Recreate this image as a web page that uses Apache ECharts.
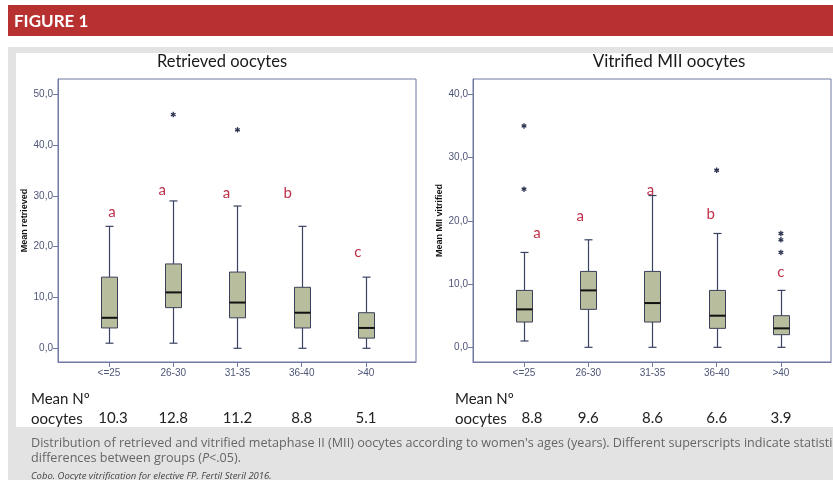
<!DOCTYPE html>
<html><head><meta charset="utf-8">
<script src="https://cdn.jsdelivr.net/npm/echarts@6/dist/echarts.min.js"></script>
<style>html,body{margin:0;padding:0;background:#fff;}#c{width:833px;height:480px;}</style>
</head><body><div id="c"></div>
<script>
// ---------------- DATA ----------------
const categories = ['<=25', '26-30', '31-35', '36-40', '>40'];

// Retrieved oocytes (box plot: low whisker, Q1, median, Q3, high whisker)
const retrievedLow    = [1, 1, 0, 0, 0];
const retrievedQ1     = [4, 8, 6, 4, 2];
const retrievedMedian = [6, 11, 9, 7, 4];
const retrievedQ3     = [14, 16.6, 15, 12, 7];
const retrievedHigh   = [24, 29, 28, 24, 14];
const retrievedOutliers = [[1, 46], [2, 43]];          // [category index, value]
const retrievedLetters  = ['a', 'a', 'a', 'b', 'c'];
const retrievedLetterY  = [26.8, 31.2, 30.6, 30.5, 19];
const retrievedMeans    = ['10.3', '12.8', '11.2', '8.8', '5.1'];
const retrievedTicks    = [0, 10, 20, 30, 40, 50];

// Vitrified MII oocytes
const vitrifiedLow    = [1, 0, 0, 0, 0];
const vitrifiedQ1     = [4, 6, 4, 3, 2];
const vitrifiedMedian = [6, 9, 7, 5, 3];
const vitrifiedQ3     = [9, 12, 12, 9, 5];
const vitrifiedHigh   = [15, 17, 24, 18, 9];
const vitrifiedOutliers = [[0, 35], [0, 25], [3, 28], [4, 18], [4, 17], [4, 15]];
const vitrifiedLetters  = ['a', 'a', 'a', 'b', 'c'];
const vitrifiedLetterY  = [18.1, 20.7, 24.9, 21.0, 11.9];
const vitrifiedMeans    = ['8.8', '9.6', '8.6', '6.6', '3.9'];
const vitrifiedTicks    = [0, 10, 20, 30, 40];

// ---------------- STYLE ----------------
const frameColor = '#7079a3';
const axisTextColor = '#4d5577';
const boxFill = '#b8bd9d';
const boxStroke = '#3a4058';
const whiskerColor = '#3a4362';
const starColor = '#2b3350';
const letterColor = '#c03049';
const retrievedLetterDx = [3, -11, -11, -14, -8];
const vitrifiedLetterDx = [13, -8, -2, -6, 0];
const retrievedMeanPad = [8, 0, 0, 0, 0];
const vitrifiedMeanPad = [16, 0, 0, 0, 0];
const catIdx = categories.map((c, i) => i);

function boxRows(lo, q1, md, q3, hi) {
  return categories.map((c, i) => [i, lo[i], q1[i], md[i], q3[i], hi[i]]);
}

function boxRender(params, api) {
  const x = api.value(0);
  const lo = api.coord([x, api.value(1)]);
  const q1 = api.coord([x, api.value(2)]);
  const md = api.coord([x, api.value(3)]);
  const q3 = api.coord([x, api.value(4)]);
  const hi = api.coord([x, api.value(5)]);
  const cx = Math.round(lo[0]) + 0.5;
  const bw = 16, cw = 8;
  const ls = { stroke: whiskerColor, lineWidth: 1.2 };
  return { type: 'group', children: [
    { type: 'line', shape: { x1: cx, y1: hi[1], x2: cx, y2: q3[1] }, style: ls },
    { type: 'line', shape: { x1: cx, y1: q1[1], x2: cx, y2: lo[1] }, style: ls },
    { type: 'line', shape: { x1: cx - cw / 2, y1: hi[1], x2: cx + cw / 2, y2: hi[1] }, style: ls },
    { type: 'line', shape: { x1: cx - cw / 2, y1: lo[1], x2: cx + cw / 2, y2: lo[1] }, style: ls },
    { type: 'rect', shape: { x: cx - bw / 2, y: q3[1], width: bw, height: q1[1] - q3[1] },
      style: { fill: boxFill, stroke: boxStroke, lineWidth: 1 } },
    { type: 'line', shape: { x1: cx - bw / 2, y1: md[1], x2: cx + bw / 2, y2: md[1] },
      style: { stroke: '#111', lineWidth: 2 } }
  ]};
}

function starRender(params, api) {
  const p = api.coord([api.value(0), api.value(1)]);
  const r = 2.7, s = { stroke: starColor, lineWidth: 1.3 };
  const ch = [];
  for (let k = 0; k < 3; k++) {
    const a = Math.PI / 2 + k * Math.PI / 3;
    ch.push({ type: 'line', shape: { x1: p[0] - r * Math.cos(a), y1: p[1] - r * Math.sin(a),
      x2: p[0] + r * Math.cos(a), y2: p[1] + r * Math.sin(a) }, style: s });
  }
  return { type: 'group', children: ch };
}

function letterRender(letters, dx) {
  return function (params, api) {
    const p = api.coord([api.value(0), api.value(1)]);
    return { type: 'text', x: p[0] + dx[params.dataIndex], y: p[1],
      style: { text: letters[params.dataIndex], fill: letterColor, font: '15px Lato',
        align: 'center', verticalAlign: 'middle' } };
  };
}

const fmtTick = v => v.toFixed(1).replace('.', ',');

function xAxes(gridIndex, means, pads) {
  const rich = {};
  pads.forEach((p, i) => { rich['m' + i] = { padding: [0, 0, 0, p], fontSize: 15, fontFamily: 'Lato', color: '#222' }; });
  return [
    { type: 'value', gridIndex, min: -0.794, max: 4.78, splitLine: { show: false },
      axisLine: { show: true, onZero: false, lineStyle: { color: frameColor } },
      axisTick: { show: true, length: 5, customValues: catIdx, lineStyle: { color: frameColor } },
      axisLabel: { customValues: catIdx, formatter: v => categories[Math.round(v)], margin: 6,
        color: axisTextColor, fontSize: 10, fontFamily: 'Liberation Sans' } },
    { type: 'value', gridIndex, position: 'bottom', offset: 44, min: -0.794, max: 4.78,
      splitLine: { show: false }, axisLine: { show: false, onZero: false }, axisTick: { show: false },
      axisLabel: { customValues: catIdx, margin: 5, rich,
        formatter: v => { const i = Math.round(v); return '{m' + i + '|' + means[i] + '}'; },
        color: '#222', fontSize: 15, fontFamily: 'Lato' } }
  ];
}

function yAxis(gridIndex, min, max, ticks, name) {
  return { type: 'value', gridIndex, min, max, splitLine: { show: false },
    name, nameLocation: 'middle', nameRotate: 90, nameGap: 29,
    nameTextStyle: { fontSize: 9, fontWeight: 'bold', color: '#111', fontFamily: 'Liberation Sans' },
    axisLine: { show: true, onZero: false, lineStyle: { color: frameColor } },
    axisTick: { show: true, length: 5, customValues: ticks, lineStyle: { color: frameColor } },
    axisLabel: { customValues: ticks, formatter: fmtTick, margin: 5, color: axisTextColor,
      fontSize: 10, fontFamily: 'Liberation Sans' } };
}

const chart = echarts.init(document.getElementById('c'), null, { renderer: 'canvas' });
chart.setOption({
  animation: false,
  backgroundColor: '#ffffff',
  graphic: [
    { type: 'rect', z: -10, shape: { x: 8, y: 5, width: 825, height: 31 }, style: { fill: '#b83131' } },
    { type: 'rect', z: -10, shape: { x: 8, y: 47, width: 825, height: 433 }, style: { fill: '#e3e3e3' } },
    { type: 'rect', z: -9, shape: { x: 16, y: 53, width: 817, height: 374 }, style: { fill: '#ffffff' } },
    { type: 'text', x: 14, y: 22, style: { text: 'FIGURE 1', fill: '#fff', font: 'bold 17px Lato', verticalAlign: 'middle' } },
    { type: 'text', x: 222, y: 62, style: { text: 'Retrieved oocytes', fill: '#1a1a1a', font: '16.5px Lato', align: 'center', verticalAlign: 'middle' } },
    { type: 'text', x: 669, y: 62, style: { text: 'Vitrified MII oocytes', fill: '#1a1a1a', font: '17px Lato', align: 'center', verticalAlign: 'middle' } },
    { type: 'text', x: 31, y: 399, style: { text: 'Mean Nº', fill: '#222', font: '15px Lato', verticalAlign: 'middle' } },
    { type: 'text', x: 31, y: 419, style: { text: 'oocytes', fill: '#222', font: '15px Lato', verticalAlign: 'middle' } },
    { type: 'text', x: 455, y: 399, style: { text: 'Mean Nº', fill: '#222', font: '15px Lato', verticalAlign: 'middle' } },
    { type: 'text', x: 455, y: 419, style: { text: 'oocytes', fill: '#222', font: '15px Lato', verticalAlign: 'middle' } },
    { type: 'text', x: 31, y: 443, style: { text: "Distribution of retrieved and vitrified metaphase II (MII) oocytes according to women's ages (years). Different superscripts indicate statistically significant", fill: '#666', font: '12.6px "Open Sans"', verticalAlign: 'middle' } },
    { type: 'text', x: 31, y: 458, style: { text: '{n|differences between groups (}{i|P}{n|<.05).}', verticalAlign: 'middle',
      rich: { n: { fill: '#666', font: '12.6px "Open Sans"' }, i: { fill: '#666', font: 'italic 12.6px "Open Sans"' } } } },
    { type: 'text', x: 31, y: 476, style: { text: 'Cobo. Oocyte vitrification for elective FP. Fertil Steril 2016.', fill: '#444', font: 'italic 9.5px "Open Sans"', verticalAlign: 'middle' } }
  ],
  grid: [
    { left: 58, top: 79, width: 358, height: 283, show: true, borderColor: frameColor, borderWidth: 1, backgroundColor: 'transparent' },
    { left: 473, top: 79, width: 358, height: 283, show: true, borderColor: frameColor, borderWidth: 1, backgroundColor: 'transparent' }
  ],
  xAxis: [...xAxes(0, retrievedMeans, retrievedMeanPad), ...xAxes(1, vitrifiedMeans, vitrifiedMeanPad)],
  yAxis: [
    yAxis(0, -2.7, 53.0, retrievedTicks, 'Mean retrieved'),
    yAxis(1, -2.32, 42.42, vitrifiedTicks, 'Mean MII vitrified')
  ],
  series: [
    { type: 'custom', xAxisIndex: 0, yAxisIndex: 0, renderItem: boxRender,
      data: boxRows(retrievedLow, retrievedQ1, retrievedMedian, retrievedQ3, retrievedHigh),
      encode: { x: 0, y: [1, 2, 3, 4, 5] } },
    { type: 'custom', xAxisIndex: 0, yAxisIndex: 0, renderItem: starRender, data: retrievedOutliers, encode: { x: 0, y: 1 } },
    { type: 'custom', xAxisIndex: 0, yAxisIndex: 0, renderItem: letterRender(retrievedLetters, retrievedLetterDx),
      data: catIdx.map(i => [i, retrievedLetterY[i]]), encode: { x: 0, y: 1 } },
    { type: 'custom', xAxisIndex: 2, yAxisIndex: 1, renderItem: boxRender,
      data: boxRows(vitrifiedLow, vitrifiedQ1, vitrifiedMedian, vitrifiedQ3, vitrifiedHigh),
      encode: { x: 0, y: [1, 2, 3, 4, 5] } },
    { type: 'custom', xAxisIndex: 2, yAxisIndex: 1, renderItem: starRender, data: vitrifiedOutliers, encode: { x: 0, y: 1 } },
    { type: 'custom', xAxisIndex: 2, yAxisIndex: 1, renderItem: letterRender(vitrifiedLetters, vitrifiedLetterDx),
      data: catIdx.map(i => [i, vitrifiedLetterY[i]]), encode: { x: 0, y: 1 } }
  ]
});
</script></body></html>
